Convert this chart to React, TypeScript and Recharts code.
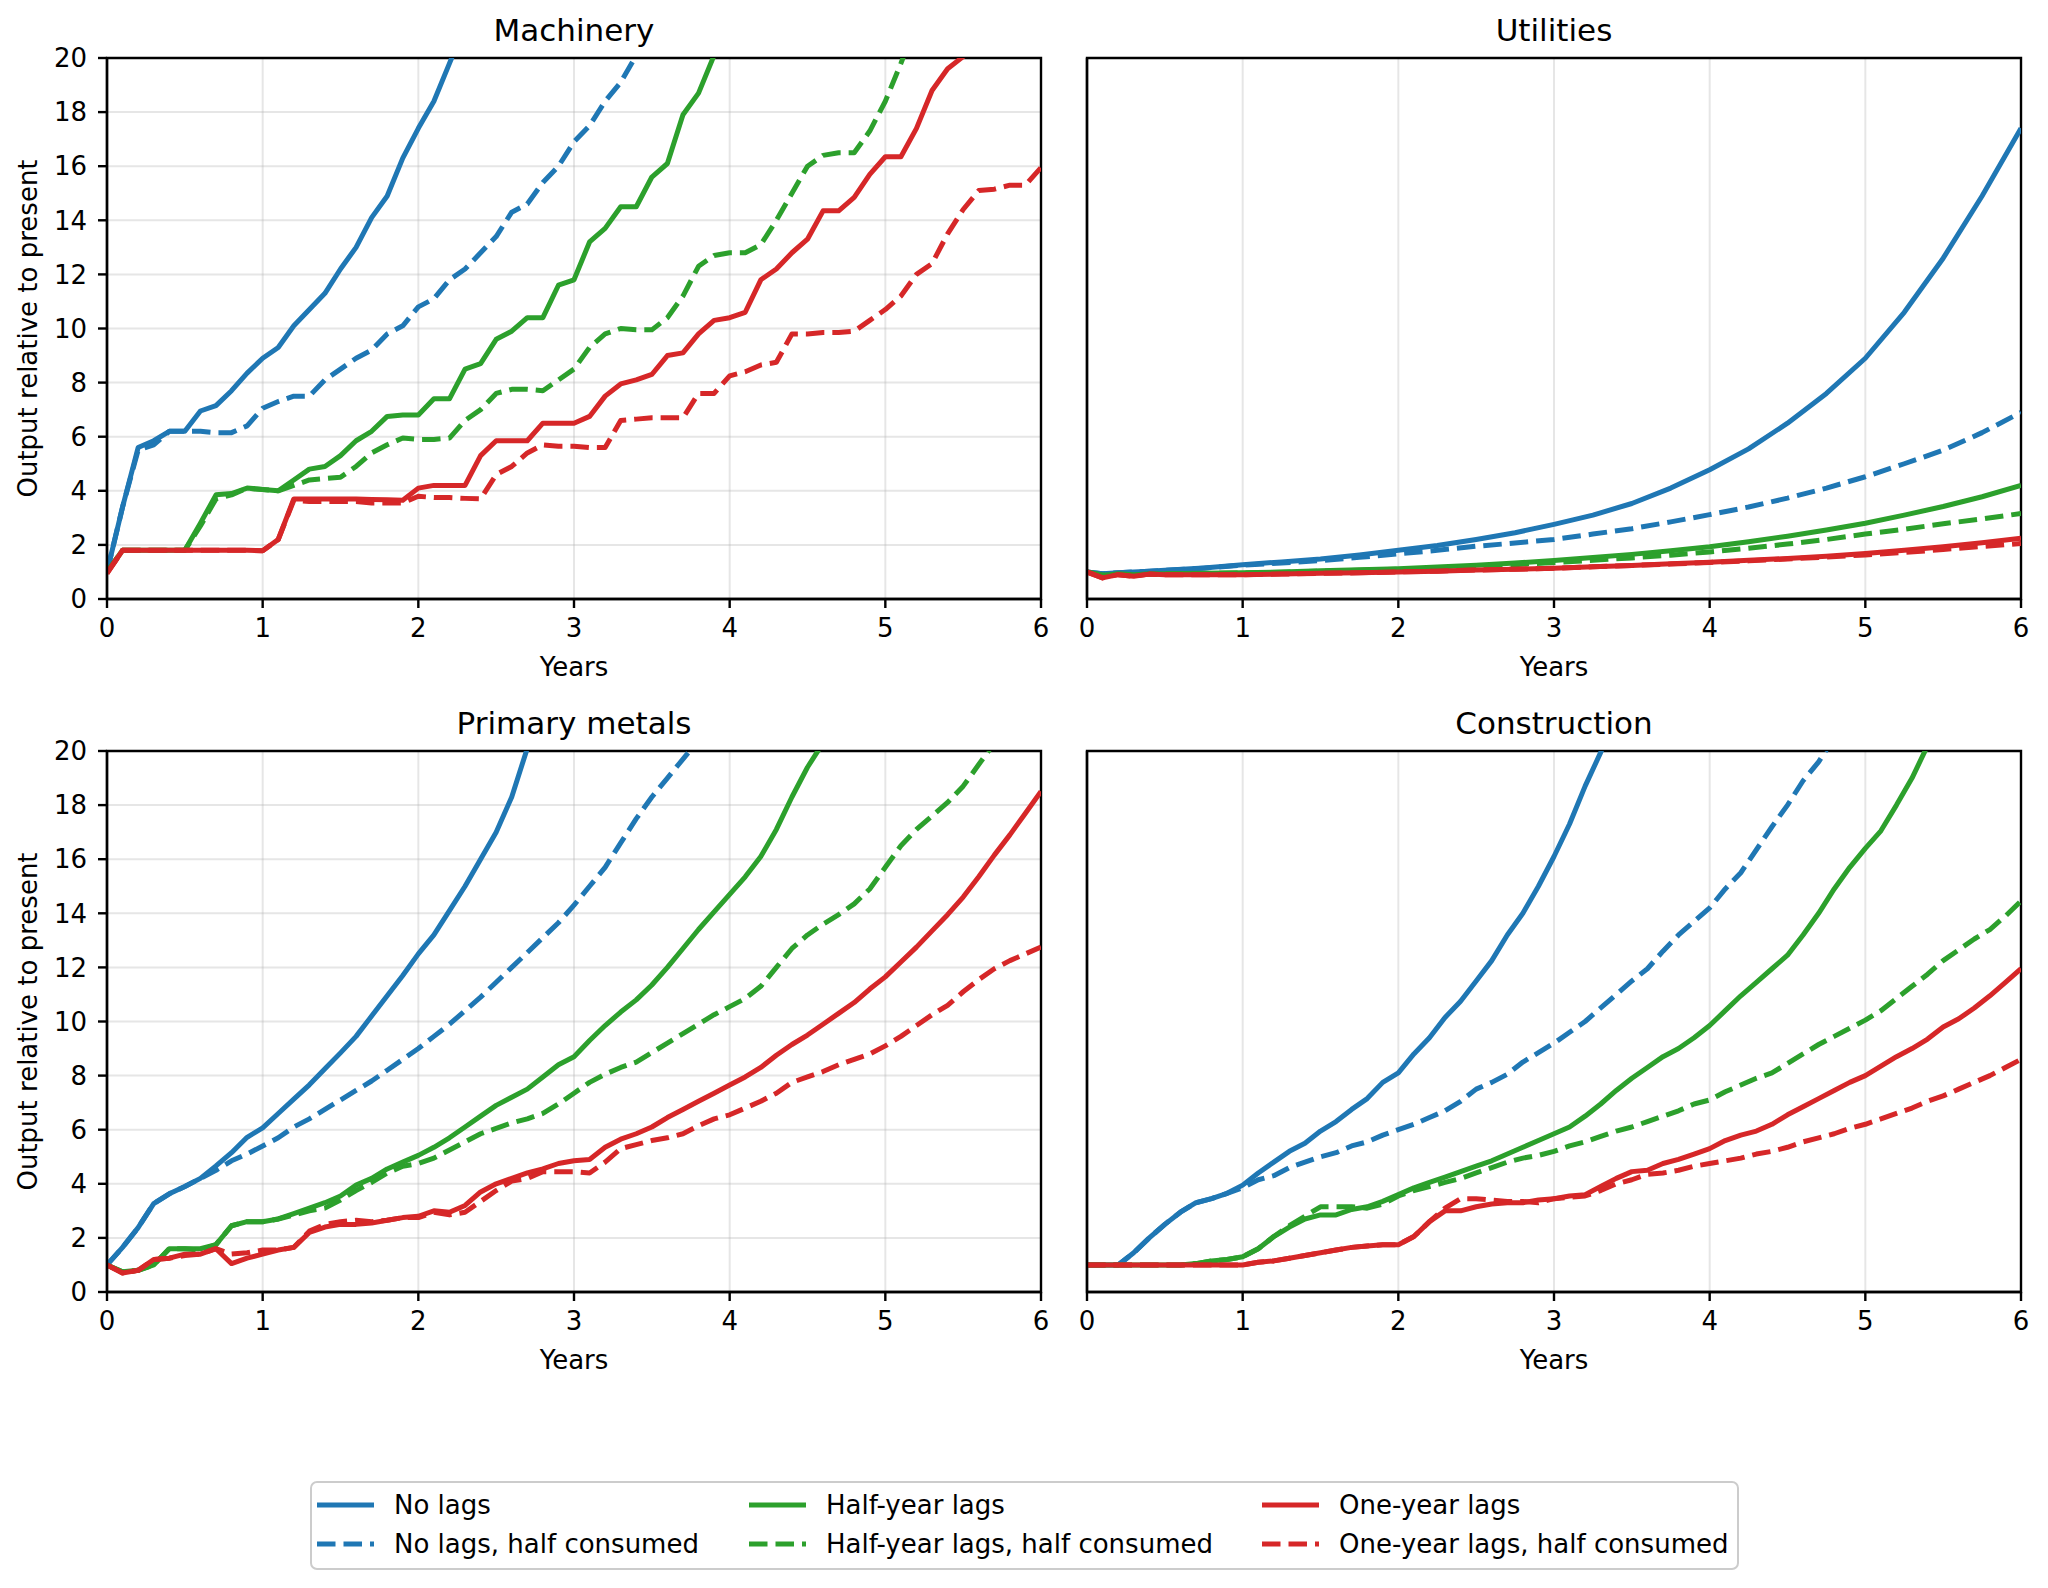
import React from "react";
import { LineChart, Line, XAxis, YAxis, CartesianGrid, ReferenceArea } from "recharts";

// x positions (years) shared by the tenth-of-a-year panels
const YEARS = [
  0, 0.1, 0.2, 0.3, 0.4, 0.5, 0.6, 0.7, 0.8, 0.9, 1, 1.1, 1.2, 1.3, 1.4, 1.5, 1.6, 1.7, 1.8, 1.9, 2,
  2.1, 2.2, 2.3, 2.4, 2.5, 2.6, 2.7, 2.8, 2.9, 3, 3.1, 3.2, 3.3, 3.4, 3.5, 3.6, 3.7, 3.8, 3.9, 4,
  4.1, 4.2, 4.3, 4.4, 4.5, 4.6, 4.7, 4.8, 4.9, 5, 5.1, 5.2, 5.3, 5.4, 5.5, 5.6, 5.7, 5.8, 5.9, 6,
];
// Utilities curves are smooth, read at a coarser grid
const YEARS_UTIL = [
  0, 0.1, 0.2, 0.3, 0.4, 0.5, 0.75, 1, 1.25, 1.5, 1.75, 2, 2.25, 2.5, 2.75, 3, 3.25, 3.5, 3.75, 4,
  4.25, 4.5, 4.75, 5, 5.25, 5.5, 5.75, 6,
];

const X_TICKS = [0, 1, 2, 3, 4, 5, 6];
const Y_TICKS = [0, 2, 4, 6, 8, 10, 12, 14, 16, 18, 20];

const SERIES = [
  { key: "noLags", name: "No lags", color: "#1f77b4", dashed: false },
  { key: "noLagsHalf", name: "No lags, half consumed", color: "#1f77b4", dashed: true },
  { key: "half", name: "Half-year lags", color: "#2ca02c", dashed: false },
  { key: "halfHalf", name: "Half-year lags, half consumed", color: "#2ca02c", dashed: true },
  { key: "one", name: "One-year lags", color: "#d62728", dashed: false },
  { key: "oneHalf", name: "One-year lags, half consumed", color: "#d62728", dashed: true },
];

// ---- Machinery ----
const MACH_NO_LAGS = [
  1.0, 3.4, 5.6, 5.85, 6.2, 6.2, 6.95, 7.15, 7.7, 8.35, 8.9, 9.3, 10.1, 10.7, 11.3, 12.2, 13.0, 14.1,
  14.9, 16.3, 17.4, 18.4, 19.8, 21.2,
];
const MACH_NO_LAGS_HALF = [
  1.0, 3.4, 5.5, 5.7, 6.2, 6.2, 6.2, 6.15, 6.15, 6.4, 7.05, 7.3, 7.5, 7.5, 8.1, 8.5, 8.9, 9.2, 9.8,
  10.1, 10.8, 11.1, 11.8, 12.2, 12.8, 13.4, 14.3, 14.6, 15.4, 16.0, 16.9, 17.5, 18.4, 19.1, 20.1,
];
const MACH_HALF = [
  1.0, 1.8, 1.8, 1.8, 1.8, 1.8, 2.8, 3.85, 3.9, 4.1, 4.05, 4.0, 4.4, 4.8, 4.9, 5.3, 5.85, 6.2, 6.75,
  6.8, 6.8, 7.4, 7.4, 8.5, 8.7, 9.6, 9.9, 10.4, 10.4, 11.6, 11.8, 13.2, 13.7, 14.5, 14.5, 15.6, 16.1,
  17.9, 18.7, 20.1,
];
const MACH_HALF_HALF = [
  1.0, 1.8, 1.8, 1.8, 1.8, 1.8, 2.7, 3.7, 3.85, 4.1, 4.05, 4.0, 4.2, 4.4, 4.45, 4.5, 4.9, 5.4, 5.7,
  5.95, 5.9, 5.9, 5.95, 6.6, 7.0, 7.6, 7.75, 7.75, 7.7, 8.1, 8.5, 9.3, 9.8, 10.0, 9.95, 9.95, 10.4,
  11.2, 12.3, 12.7, 12.8, 12.8, 13.1, 14.0, 15.0, 16.0, 16.4, 16.5, 16.5, 17.3, 18.4, 19.8, 21.3,
];
const MACH_ONE = [
  0.95, 1.8, 1.8, 1.8, 1.8, 1.8, 1.8, 1.8, 1.8, 1.8, 1.78, 2.2, 3.7, 3.7, 3.7, 3.7, 3.7, 3.68, 3.67,
  3.65, 4.1, 4.2, 4.2, 4.2, 5.3, 5.85, 5.85, 5.85, 6.5, 6.5, 6.5, 6.75, 7.5, 7.95, 8.1, 8.3, 9.0, 9.1,
  9.8, 10.3, 10.4, 10.6, 11.8, 12.2, 12.8, 13.3, 14.35, 14.35, 14.85, 15.7, 16.35, 16.35, 17.4, 18.8,
  19.6, 20.05, 20.6,
];
const MACH_ONE_HALF = [
  0.95, 1.8, 1.8, 1.8, 1.8, 1.8, 1.8, 1.8, 1.8, 1.8, 1.78, 2.2, 3.65, 3.6, 3.6, 3.6, 3.6, 3.55, 3.55,
  3.55, 3.8, 3.75, 3.75, 3.72, 3.7, 4.6, 4.9, 5.4, 5.7, 5.65, 5.65, 5.6, 5.6, 6.6, 6.65, 6.7, 6.7, 6.7,
  7.6, 7.6, 8.25, 8.4, 8.65, 8.75, 9.8, 9.8, 9.85, 9.85, 9.9, 10.3, 10.7, 11.2, 12.0, 12.4, 13.5,
  14.4, 15.1, 15.15, 15.3, 15.3, 15.95,
];

// ---- Utilities ----
const UTIL_NO_LAGS = [
  1.0, 0.93, 0.97, 1.0, 1.03, 1.06, 1.15, 1.27, 1.37, 1.48, 1.63, 1.8, 1.98, 2.2, 2.45, 2.76, 3.1,
  3.53, 4.1, 4.78, 5.55, 6.5, 7.6, 8.9, 10.6, 12.6, 14.9, 17.4,
];
const UTIL_NO_LAGS_HALF = [
  1.0, 0.93, 0.97, 1.0, 1.03, 1.06, 1.14, 1.25, 1.33, 1.42, 1.54, 1.67, 1.8, 1.95, 2.07, 2.2, 2.4,
  2.6, 2.85, 3.12, 3.4, 3.73, 4.1, 4.52, 5.0, 5.5, 6.15, 6.9,
];
const UTIL_HALF = [
  1.0, 0.88, 0.92, 0.9, 0.92, 0.93, 0.95, 0.97, 1.0, 1.04, 1.08, 1.12, 1.18, 1.25, 1.33, 1.42, 1.53,
  1.65, 1.78, 1.93, 2.12, 2.32, 2.55, 2.8, 3.1, 3.42, 3.78, 4.2,
];
const UTIL_HALF_HALF = [
  1.0, 0.88, 0.92, 0.9, 0.92, 0.93, 0.94, 0.96, 0.99, 1.03, 1.06, 1.1, 1.15, 1.2, 1.27, 1.35, 1.43,
  1.52, 1.62, 1.74, 1.88, 2.03, 2.2, 2.4, 2.58, 2.78, 2.96, 3.16,
];
const UTIL_ONE = [
  1.0, 0.78, 0.9, 0.84, 0.92, 0.9, 0.9, 0.9, 0.92, 0.95, 0.97, 1.0, 1.03, 1.07, 1.1, 1.14, 1.19,
  1.24, 1.3, 1.36, 1.43, 1.5, 1.58, 1.68, 1.8, 1.93, 2.08, 2.25,
];
const UTIL_ONE_HALF = [
  1.0, 0.78, 0.9, 0.84, 0.92, 0.9, 0.9, 0.9, 0.92, 0.95, 0.97, 1.0, 1.03, 1.07, 1.1, 1.14, 1.19,
  1.24, 1.29, 1.35, 1.41, 1.48, 1.55, 1.63, 1.72, 1.83, 1.94, 2.05,
];

// ---- Primary metals ----
const PM_NO_LAGS = [
  1.0, 1.65, 2.38, 3.27, 3.63, 3.9, 4.2, 4.66, 5.15, 5.72, 6.07, 6.6, 7.13, 7.66, 8.25, 8.84, 9.45,
  10.2, 10.95, 11.7, 12.5, 13.2, 14.1, 15.0, 16.0, 17.0, 18.3, 20.1,
];
const PM_NO_LAGS_HALF = [
  1.0, 1.65, 2.38, 3.27, 3.63, 3.9, 4.2, 4.5, 4.85, 5.1, 5.4, 5.7, 6.1, 6.4, 6.75, 7.1, 7.45, 7.8,
  8.2, 8.6, 9.0, 9.45, 9.9, 10.4, 10.9, 11.45, 12.0, 12.55, 13.1, 13.65, 14.3, 15.0, 15.7, 16.6,
  17.5, 18.3, 19.0, 19.7, 20.4,
];
const PM_HALF = [
  1.0, 0.75, 0.8, 1.0, 1.6, 1.6, 1.6, 1.75, 2.45, 2.6, 2.6, 2.7, 2.9, 3.1, 3.3, 3.55, 3.95, 4.2, 4.55,
  4.8, 5.05, 5.35, 5.7, 6.1, 6.5, 6.9, 7.2, 7.5, 7.95, 8.4, 8.7, 9.3, 9.85, 10.35, 10.8, 11.35, 12.0,
  12.7, 13.4, 14.05, 14.7, 15.35, 16.1, 17.1, 18.3, 19.4, 20.3,
];
const PM_HALF_HALF = [
  1.0, 0.75, 0.8, 1.0, 1.6, 1.6, 1.55, 1.75, 2.45, 2.6, 2.6, 2.7, 2.85, 3.0, 3.1, 3.4, 3.75, 4.05,
  4.4, 4.65, 4.75, 4.95, 5.25, 5.55, 5.85, 6.05, 6.25, 6.4, 6.6, 6.95, 7.35, 7.75, 8.05, 8.3, 8.5,
  8.85, 9.2, 9.55, 9.9, 10.25, 10.55, 10.85, 11.3, 12.0, 12.7, 13.2, 13.6, 13.95, 14.35, 14.9, 15.7,
  16.5, 17.1, 17.6, 18.1, 18.7, 19.5, 20.3,
];
const PM_ONE = [
  1.0, 0.7, 0.8, 1.2, 1.25, 1.4, 1.4, 1.6, 1.05, 1.25, 1.4, 1.55, 1.65, 2.2, 2.4, 2.5, 2.5, 2.55,
  2.65, 2.75, 2.8, 3.0, 2.95, 3.2, 3.7, 4.0, 4.2, 4.4, 4.55, 4.75, 4.85, 4.9, 5.35, 5.65, 5.85, 6.1,
  6.45, 6.75, 7.05, 7.35, 7.65, 7.95, 8.3, 8.75, 9.15, 9.5, 9.9, 10.3, 10.7, 11.2, 11.65, 12.2, 12.75,
  13.35, 13.95, 14.6, 15.35, 16.15, 16.9, 17.7, 18.5,
];
const PM_ONE_HALF = [
  1.0, 0.7, 0.8, 1.2, 1.25, 1.35, 1.4, 1.6, 1.4, 1.45, 1.55, 1.55, 1.65, 2.25, 2.5, 2.6, 2.65, 2.6,
  2.65, 2.75, 2.75, 2.95, 2.85, 2.95, 3.35, 3.75, 4.1, 4.2, 4.45, 4.45, 4.45, 4.4, 4.8, 5.3, 5.45,
  5.6, 5.7, 5.85, 6.15, 6.4, 6.55, 6.8, 7.05, 7.35, 7.75, 7.95, 8.15, 8.4, 8.6, 8.8, 9.1, 9.45, 9.85,
  10.25, 10.6, 11.1, 11.55, 11.95, 12.25, 12.5, 12.75,
];

// ---- Construction ----
const CON_NO_LAGS = [
  1.0, 1.0, 1.0, 1.45, 2.0, 2.5, 2.95, 3.3, 3.45, 3.65, 3.95, 4.4, 4.8, 5.2, 5.5, 5.95, 6.3, 6.75,
  7.15, 7.75, 8.1, 8.8, 9.4, 10.15, 10.75, 11.5, 12.25, 13.2, 14.0, 15.0, 16.1, 17.3, 18.7, 19.95,
  21.3,
];
const CON_NO_LAGS_HALF = [
  1.0, 1.0, 1.0, 1.45, 2.0, 2.5, 2.95, 3.3, 3.45, 3.65, 3.85, 4.15, 4.3, 4.6, 4.8, 5.0, 5.15, 5.4,
  5.55, 5.8, 6.0, 6.2, 6.45, 6.7, 7.05, 7.5, 7.75, 8.05, 8.5, 8.85, 9.2, 9.6, 10.0, 10.5, 11.0, 11.5,
  11.95, 12.6, 13.2, 13.7, 14.2, 14.9, 15.5, 16.35, 17.2, 18.0, 18.9, 19.6, 20.5,
];
const CON_HALF = [
  1.0, 1.0, 1.0, 1.0, 1.0, 1.0, 1.0, 1.05, 1.15, 1.2, 1.3, 1.6, 2.05, 2.4, 2.7, 2.85, 2.85, 3.05,
  3.15, 3.35, 3.6, 3.85, 4.05, 4.25, 4.45, 4.65, 4.85, 5.1, 5.35, 5.6, 5.85, 6.1, 6.5, 6.95, 7.45,
  7.9, 8.3, 8.7, 9.0, 9.4, 9.85, 10.4, 10.95, 11.45, 11.95, 12.45, 13.2, 14.0, 14.9, 15.7, 16.4,
  17.05, 18.0, 19.0, 20.2,
];
const CON_HALF_HALF = [
  1.0, 1.0, 1.0, 1.0, 1.0, 1.0, 1.0, 1.05, 1.15, 1.2, 1.3, 1.6, 2.05, 2.45, 2.8, 3.15, 3.15, 3.15,
  3.1, 3.25, 3.55, 3.75, 3.9, 4.05, 4.2, 4.4, 4.6, 4.8, 4.95, 5.05, 5.2, 5.4, 5.55, 5.75, 5.95, 6.1,
  6.3, 6.5, 6.7, 6.95, 7.1, 7.4, 7.65, 7.9, 8.1, 8.45, 8.8, 9.15, 9.45, 9.75, 10.05, 10.4, 10.85,
  11.3, 11.75, 12.25, 12.65, 13.05, 13.4, 13.9, 14.45,
];
const CON_ONE = [
  1.0, 1.0, 1.0, 1.0, 1.0, 1.0, 1.0, 1.0, 1.0, 1.0, 1.0, 1.1, 1.15, 1.25, 1.35, 1.45, 1.55, 1.65,
  1.7, 1.75, 1.75, 2.05, 2.6, 3.0, 3.0, 3.15, 3.25, 3.3, 3.3, 3.4, 3.45, 3.55, 3.6, 3.9, 4.2, 4.45,
  4.5, 4.75, 4.9, 5.1, 5.3, 5.6, 5.8, 5.95, 6.2, 6.55, 6.85, 7.15, 7.45, 7.75, 8.0, 8.35, 8.7, 9.0,
  9.35, 9.8, 10.1, 10.5, 10.95, 11.45, 11.95,
];
const CON_ONE_HALF = [
  1.0, 1.0, 1.0, 1.0, 1.0, 1.0, 1.0, 1.0, 1.0, 1.0, 1.0, 1.1, 1.15, 1.25, 1.35, 1.45, 1.55, 1.65,
  1.7, 1.75, 1.75, 2.05, 2.6, 3.1, 3.45, 3.45, 3.4, 3.35, 3.35, 3.3, 3.45, 3.5, 3.55, 3.75, 4.0,
  4.15, 4.35, 4.4, 4.5, 4.65, 4.75, 4.85, 4.95, 5.1, 5.2, 5.35, 5.55, 5.7, 5.85, 6.05, 6.2, 6.4, 6.6,
  6.8, 7.05, 7.25, 7.5, 7.75, 8.0, 8.3, 8.6,
];

const FONT = "DejaVu Sans, Liberation Sans, sans-serif";
const TEXT_SIZE = 26;
const TITLE_SIZE = 31;
const LINE_W = 5;
const DASH = "18.5 8";
const SPINE_W = 2.4;

const PLOT_W = 934;
const PLOT_H = 541;
const Y_AXIS_W = 107;
const X_AXIS_H = 100;
const M_TOP = 20;
const M_RIGHT = 20;

const PANELS = [
  {
    title: "Machinery",
    plotLeft: 107,
    plotTop: 58,
    yLabels: true,
    years: YEARS,
    cols: {
      noLags: MACH_NO_LAGS,
      noLagsHalf: MACH_NO_LAGS_HALF,
      half: MACH_HALF,
      halfHalf: MACH_HALF_HALF,
      one: MACH_ONE,
      oneHalf: MACH_ONE_HALF,
    },
  },
  {
    title: "Utilities",
    plotLeft: 1087,
    plotTop: 58,
    yLabels: false,
    years: YEARS_UTIL,
    cols: {
      noLags: UTIL_NO_LAGS,
      noLagsHalf: UTIL_NO_LAGS_HALF,
      half: UTIL_HALF,
      halfHalf: UTIL_HALF_HALF,
      one: UTIL_ONE,
      oneHalf: UTIL_ONE_HALF,
    },
  },
  {
    title: "Primary metals",
    plotLeft: 107,
    plotTop: 751,
    yLabels: true,
    years: YEARS,
    cols: {
      noLags: PM_NO_LAGS,
      noLagsHalf: PM_NO_LAGS_HALF,
      half: PM_HALF,
      halfHalf: PM_HALF_HALF,
      one: PM_ONE,
      oneHalf: PM_ONE_HALF,
    },
  },
  {
    title: "Construction",
    plotLeft: 1087,
    plotTop: 751,
    yLabels: false,
    years: YEARS,
    cols: {
      noLags: CON_NO_LAGS,
      noLagsHalf: CON_NO_LAGS_HALF,
      half: CON_HALF,
      halfHalf: CON_HALF_HALF,
      one: CON_ONE,
      oneHalf: CON_ONE_HALF,
    },
  },
];

// legend layout (matplotlib ncol=3, filled column by column)
const LEGEND_BOX = { x: 311, y: 1482, w: 1427, h: 87 };
const LEGEND_COL_X = [317, 749, 1262];
const LEGEND_ROW_Y = [1505, 1544];
const LEGEND_HANDLE = 57;
const LEGEND_TEXT_GAP = 20;

function buildRows(years: number[], cols: Record<string, number[]>) {
  return years.map((year, i) => {
    const row: Record<string, number | null> = { year };
    for (const s of SERIES) {
      const v = cols[s.key][i];
      row[s.key] = v === undefined ? null : v;
    }
    return row;
  });
}

const tickText = { fontSize: TEXT_SIZE, fontFamily: FONT, fill: "#000" };
const axisStroke = { stroke: "#000", strokeWidth: SPINE_W };

function Panel({ panel }: { panel: (typeof PANELS)[number] }) {
  const rows = buildRows(panel.years, panel.cols);
  return (
    <div
      style={{
        position: "absolute",
        left: panel.plotLeft - Y_AXIS_W,
        top: panel.plotTop - M_TOP,
      }}
    >
      <LineChart
        width={Y_AXIS_W + PLOT_W + M_RIGHT}
        height={M_TOP + PLOT_H + X_AXIS_H}
        data={rows}
        margin={{ top: M_TOP, right: M_RIGHT, bottom: 0, left: 0 }}
      >
        <CartesianGrid stroke="#b0b0b0" strokeOpacity={0.32} strokeWidth={2} />
        <XAxis
          dataKey="year"
          type="number"
          domain={[0, 6]}
          ticks={X_TICKS}
          interval={0}
          allowDataOverflow
          height={X_AXIS_H}
          tickSize={9}
          tickMargin={11}
          tick={tickText}
          tickLine={axisStroke}
          axisLine={axisStroke}
          label={{
            value: "Years",
            position: "insideBottom",
            offset: 23,
            fill: "#000",
            fontSize: TEXT_SIZE,
            fontFamily: FONT,
          }}
        />
        <YAxis
          type="number"
          domain={[0, 20]}
          ticks={Y_TICKS}
          interval={0}
          allowDataOverflow
          width={Y_AXIS_W}
          tickSize={9}
          tickMargin={11}
          tick={panel.yLabels ? tickText : false}
          tickLine={axisStroke}
          axisLine={axisStroke}
          label={
            panel.yLabels
              ? {
                  value: "Output relative to present",
                  angle: -90,
                  position: "insideLeft",
                  offset: 28,
                  fill: "#000",
                  fontSize: TEXT_SIZE,
                  fontFamily: FONT,
                  style: { textAnchor: "middle" },
                }
              : undefined
          }
        />
        {SERIES.map((s) => (
          <Line
            key={s.key}
            type="linear"
            dataKey={s.key}
            name={s.name}
            stroke={s.color}
            strokeWidth={LINE_W}
            strokeDasharray={s.dashed ? DASH : undefined}
            strokeLinejoin="round"
            dot={false}
            activeDot={false}
            isAnimationActive={false}
          />
        ))}
        <ReferenceArea
          x1={0}
          x2={6}
          y1={0}
          y2={20}
          fill="none"
          stroke="#000"
          strokeWidth={SPINE_W}
          fillOpacity={0}
        />
      </LineChart>
    </div>
  );
}

export default function App() {
  return (
    <div
      style={{
        position: "absolute",
        left: 0,
        top: 0,
        width: 2048,
        height: 1588,
        background: "#fff",
        fontFamily: FONT,
      }}
    >
      {PANELS.map((p) => (
        <Panel key={p.title} panel={p} />
      ))}
      <svg
        width={2048}
        height={1588}
        style={{ position: "absolute", left: 0, top: 0, pointerEvents: "none" }}
      >
        {PANELS.map((p) => (
          <text
            key={p.title}
            x={p.plotLeft + PLOT_W / 2}
            y={p.plotTop - 17}
            textAnchor="middle"
            fontSize={TITLE_SIZE}
            fontFamily={FONT}
            fill="#000"
          >
            {p.title}
          </text>
        ))}
        <rect
          x={LEGEND_BOX.x}
          y={LEGEND_BOX.y}
          width={LEGEND_BOX.w}
          height={LEGEND_BOX.h}
          rx={6}
          fill="#fff"
          fillOpacity={0.8}
          stroke="#cccccc"
          strokeWidth={2}
        />
        {SERIES.map((s, i) => {
          const col = Math.floor(i / 2);
          const row = i % 2;
          const x0 = LEGEND_COL_X[col];
          const y0 = LEGEND_ROW_Y[row];
          return (
            <g key={s.key}>
              <line
                x1={x0}
                x2={x0 + LEGEND_HANDLE}
                y1={y0}
                y2={y0}
                stroke={s.color}
                strokeWidth={LINE_W}
                strokeDasharray={s.dashed ? DASH : undefined}
              />
              <text
                x={x0 + LEGEND_HANDLE + LEGEND_TEXT_GAP}
                y={y0}
                dy="0.35em"
                fontSize={TEXT_SIZE}
                fontFamily={FONT}
                fill="#000"
              >
                {s.name}
              </text>
            </g>
          );
        })}
      </svg>
    </div>
  );
}
